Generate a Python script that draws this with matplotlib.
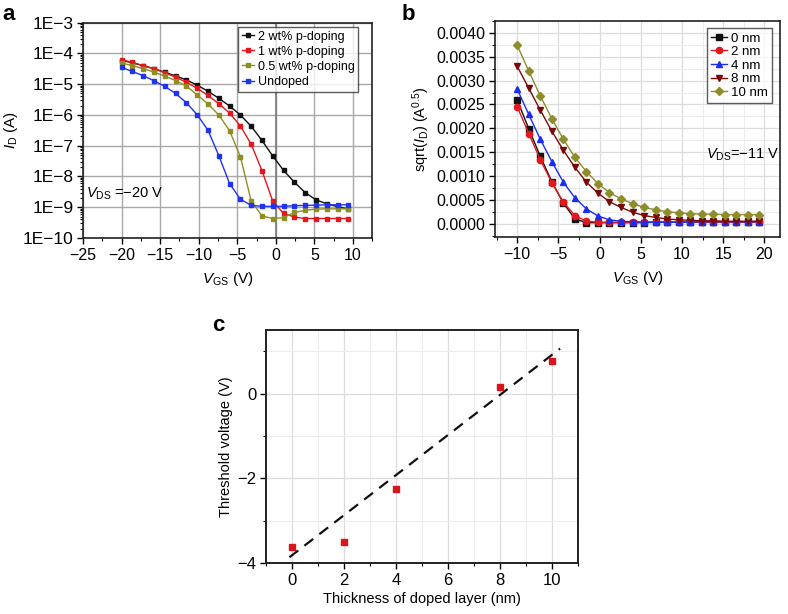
"""Transfer curves and threshold voltage of p-doped transistors (three panels)."""

import matplotlib

matplotlib.use("Agg")
import matplotlib.pyplot as plt
import numpy as np
from matplotlib.ticker import FuncFormatter, LogLocator, MultipleLocator, NullFormatter

plt.rcParams["font.family"] = ["Liberation Sans", "DejaVu Sans"]
plt.rcParams["mathtext.fontset"] = "custom"
plt.rcParams["mathtext.rm"] = "Liberation Sans"
plt.rcParams["mathtext.it"] = "Liberation Sans:italic"
plt.rcParams["font.size"] = 10

TICK_SIZE = 11.5

# ---- panel a: I_D vs V_GS at V_DS = -20 V ----
vgs_a = [-20.0, -18.6, -17.2, -15.8, -14.4, -13.0, -11.6, -10.2, -8.8, -7.4, -6.0,
         -4.6, -3.2, -1.8, -0.4, 1.0, 2.4, 3.8, 5.2, 6.6, 8.0, 9.4]
id_2wt = [5.9e-5, 5.0e-5, 4.0e-5, 3.2e-5, 2.45e-5, 1.86e-5, 1.38e-5, 9.3e-6, 5.9e-6,
          3.5e-6, 1.95e-6, 1.0e-6, 4.3e-7, 1.48e-7, 4.6e-8, 1.58e-8, 6.5e-9, 3.0e-9,
          1.74e-9, 1.29e-9, 1.05e-9, 8.7e-10]
id_1wt = [6.3e-5, 5.1e-5, 4.0e-5, 3.2e-5, 2.35e-5, 1.7e-5, 1.15e-5, 7.4e-6, 4.3e-6,
          2.35e-6, 1.15e-6, 4.4e-7, 1.12e-7, 1.55e-8, 1.55e-9, 6.3e-10, 4.8e-10, 4.3e-10,
          4.3e-10, 4.3e-10, 4.3e-10, 4.3e-10]
id_05wt = [4.9e-5, 4.0e-5, 3.2e-5, 2.5e-5, 1.82e-5, 1.32e-5, 8.7e-6, 4.5e-6, 2.3e-6,
           1.0e-6, 3.1e-7, 4.4e-8, 1.62e-9, 5.2e-10, 4.3e-10, 4.6e-10, 6.8e-10, 7.9e-10,
           8.7e-10, 8.9e-10, 8.9e-10, 8.9e-10]
id_undoped = [3.5e-5, 2.6e-5, 1.9e-5, 1.29e-5, 8.5e-6, 5.0e-6, 2.5e-6, 1.02e-6, 3.2e-7,
              4.8e-8, 5.9e-9, 1.82e-9, 1.15e-9, 1.07e-9, 1.07e-9, 1.07e-9, 1.12e-9,
              1.15e-9, 1.17e-9, 1.2e-9, 1.2e-9, 1.2e-9]
labels_a = ["2 wt% p-doping", "1 wt% p-doping", "0.5 wt% p-doping", "Undoped"]
colors_a = ["#111111", "#e3171d", "#8e8e22", "#2233ee"]

# ---- panel b: sqrt(I_D) vs V_GS at V_DS = -11 V ----
vgs_b = [-10.0, -8.6, -7.2, -5.8, -4.4, -3.0, -1.6, -0.2, 1.2, 2.6, 4.0, 5.4, 6.8,
         8.2, 9.6, 11.0, 12.4, 13.8, 15.2, 16.6, 18.0, 19.4]
sq_0nm = [0.00259, 0.00199, 0.00141, 0.00088, 0.00043, 0.00010, 0.00002, 0.00002,
          0.00002, 0.00002, 0.00002, 0.00002, 0.00003, 0.00003, 0.00003, 0.00003,
          0.00003, 0.00003, 0.00004, 0.00004, 0.00004, 0.00004]
sq_2nm = [0.00245, 0.00189, 0.00134, 0.00086, 0.00045, 0.00017, 0.00005, 0.00003,
          0.00003, 0.00003, 0.00003, 0.00003, 0.00003, 0.00003, 0.00003, 0.00003,
          0.00003, 0.00003, 0.00003, 0.00003, 0.00003, 0.00003]
sq_4nm = [0.00282, 0.00229, 0.00177, 0.00130, 0.00087, 0.00054, 0.00031, 0.00016,
          0.00008, 0.00005, 0.00004, 0.00003, 0.00003, 0.00003, 0.00003, 0.00003,
          0.00004, 0.00004, 0.00004, 0.00004, 0.00004, 0.00004]
sq_8nm = [0.00330, 0.00284, 0.00238, 0.00194, 0.00154, 0.00118, 0.00087, 0.00064,
          0.00046, 0.00034, 0.00024, 0.00017, 0.00013, 0.00010, 0.00008, 0.00007,
          0.00006, 0.00006, 0.00005, 0.00005, 0.00005, 0.00005]
sq_10nm = [0.00374, 0.00320, 0.00268, 0.00220, 0.00177, 0.00139, 0.00109, 0.00084,
           0.00065, 0.00052, 0.00042, 0.00034, 0.00029, 0.00025, 0.00023, 0.00021,
           0.00020, 0.00020, 0.00019, 0.00019, 0.00019, 0.00019]
labels_b = ["0 nm", "2 nm", "4 nm", "8 nm", "10 nm"]
colors_b = ["#111111", "#e3171d", "#1a2ef0", "#7a0a0a", "#8d8d2b"]
markers_b = ["s", "o", "^", "v", "D"]

# ---- panel c: threshold voltage vs doped layer thickness ----
thickness = [0, 2, 4, 8, 10]
v_threshold = [-3.62, -3.50, -2.24, 0.16, 0.76]
fit_slope = 0.473
fit_intercept = -3.81
fit_x = [-0.1, 10.3]

W, H = 788, 614
fig = plt.figure(figsize=(W / 100, H / 100), dpi=100)


def px_axes(left, top, right, bottom):
    return fig.add_axes([left / W, 1 - bottom / H, (right - left) / W, (bottom - top) / H])


def minus(v, p):
    return f"{v:.0f}".replace("-", "\u2212")


def style_frame(ax, lw=1.2, labelsize=TICK_SIZE):
    for sp in ax.spines.values():
        sp.set_linewidth(lw)
        sp.set_color("#222222")
    ax.tick_params(which="major", direction="out", length=4, width=1, top=False,
                   right=False, labelsize=labelsize, pad=3)
    ax.tick_params(which="minor", direction="out", length=2.2, width=0.8, top=False, right=False)


# panel a
ax_a = px_axes(83, 22.7, 372.3, 238)
for ys, lab, col in zip([id_2wt, id_1wt, id_05wt, id_undoped], labels_a, colors_a):
    ax_a.plot(vgs_a, ys, "-s", color=col, lw=1.0, ms=3.3, label=lab)
ax_a.set_yscale("log")
ax_a.set_xlim(-25, 12.5)
ax_a.set_ylim(1e-10, 1e-3)
ax_a.xaxis.set_major_locator(MultipleLocator(5))
ax_a.xaxis.set_minor_locator(MultipleLocator(2.5))
ax_a.yaxis.set_major_locator(LogLocator(base=10, numticks=12))
ax_a.yaxis.set_minor_locator(LogLocator(base=10, subs=np.arange(2, 10), numticks=12))
ax_a.yaxis.set_minor_formatter(NullFormatter())
ax_a.yaxis.set_major_formatter(FuncFormatter(lambda v, p: f"1E\u2212{int(round(-np.log10(v)))}"))
ax_a.xaxis.set_major_formatter(FuncFormatter(minus))
ax_a.grid(True, which="major", color="#a8a8a8", lw=1.0)
ax_a.axvline(0, color="#7a7a7a", lw=1.2, zorder=1)
ax_a.set_axisbelow(True)
style_frame(ax_a)
ax_a.tick_params(axis="y", which="major", labelsize=12.5)
ax_a.set_xlabel(r"$V_\mathrm{GS}$ (V)", fontsize=11, labelpad=5)
ax_a.set_ylabel(r"$I_\mathrm{D}$ (A)", fontsize=11, labelpad=2)
ax_a.text(-24.6, 10 ** -8.55, "$V_\\mathrm{DS}$ =\u221220 V", fontsize=10.5, va="center", ha="left")
leg_a = ax_a.legend(loc="upper right", bbox_to_anchor=(0.952, 0.981), borderaxespad=0,
                    fontsize=9, frameon=True, fancybox=False, edgecolor="#333333",
                    handlelength=1.0, handletextpad=0.3, borderpad=0.3, labelspacing=0.25)
leg_a.get_frame().set_linewidth(1.0)

# panel b
ax_b = px_axes(495, 21, 780, 237)
for ys, lab, col, mk in zip([sq_0nm, sq_2nm, sq_4nm, sq_8nm, sq_10nm], labels_b, colors_b, markers_b):
    ax_b.plot(vgs_b, ys, "-", marker=mk, color=col, lw=1.0,
              ms=3.8 if mk == "D" else 4.5, label=lab)
ax_b.set_xlim(-12.7, 21.9)
ax_b.set_ylim(-0.00028, 0.00425)
ax_b.xaxis.set_major_locator(MultipleLocator(5))
ax_b.xaxis.set_minor_locator(MultipleLocator(2.5))
ax_b.yaxis.set_major_locator(MultipleLocator(0.0005))
ax_b.yaxis.set_minor_locator(MultipleLocator(0.00025))
ax_b.yaxis.set_major_formatter(FuncFormatter(lambda v, p: f"{abs(v):.4f}"))
ax_b.xaxis.set_major_formatter(FuncFormatter(minus))
ax_b.grid(True, which="major", color="#dcdcdc", lw=0.9)
ax_b.grid(True, which="minor", color="#ececec", lw=0.7)
ax_b.set_axisbelow(True)
style_frame(ax_b)
ax_b.set_xlabel(r"$V_\mathrm{GS}$ (V)", fontsize=11, labelpad=5)
ax_b.set_ylabel(r"sqrt($I_\mathrm{D}$) (A$^{0.5}$)", fontsize=10.5, labelpad=3)
ax_b.text(12.9, 0.00145, "$V_\\mathrm{DS}$=\u221211 V", fontsize=10.5, va="center", ha="left")
leg_b = ax_b.legend(loc="upper right", bbox_to_anchor=(0.971, 0.966), borderaxespad=0,
                    fontsize=9.5, frameon=True, fancybox=False, edgecolor="#333333",
                    handlelength=1.2, handletextpad=0.3, borderpad=0.3, labelspacing=0.1)
leg_b.get_frame().set_linewidth(1.0)

# panel c
ax_c = px_axes(266, 330, 578.3, 563.3)
fit_y = [fit_slope * x + fit_intercept for x in fit_x]
ax_c.plot(fit_x, fit_y, "--", color="#111111", lw=1.6, dashes=(5, 3.5))
ax_c.plot(thickness, v_threshold, "s", color="#d8141c", ms=4.5, ls="none")
ax_c.set_xlim(-1, 11)
ax_c.set_ylim(-4, 1.5)
ax_c.xaxis.set_major_locator(MultipleLocator(2))
ax_c.xaxis.set_minor_locator(MultipleLocator(1))
ax_c.yaxis.set_major_locator(MultipleLocator(2))
ax_c.yaxis.set_minor_locator(MultipleLocator(1))
ax_c.yaxis.set_major_formatter(FuncFormatter(minus))
ax_c.grid(True, which="major", color="#dcdcdc", lw=0.9)
ax_c.grid(True, which="minor", color="#ececec", lw=0.7)
ax_c.set_axisbelow(True)
style_frame(ax_c, lw=1.4, labelsize=12)
ax_c.set_xlabel("Thickness of doped layer (nm)", fontsize=10.5, labelpad=3)
ax_c.set_ylabel("Threshold voltage (V)", fontsize=10.5, labelpad=3)

# panel letters
fig.text(2 / W, 1 - 4 / H, "a", fontsize=16, fontweight="bold", va="top", ha="left")
fig.text(402 / W, 1 - 4 / H, "b", fontsize=16, fontweight="bold", va="top", ha="left")
fig.text(212 / W, 1 - 315 / H, "c", fontsize=16, fontweight="bold", va="top", ha="left")

fig.savefig("out.png", dpi=100)
